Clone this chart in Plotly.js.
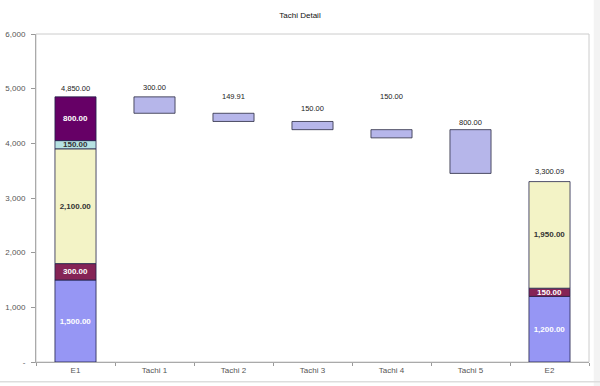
<!DOCTYPE html>
<html>
<head>
<meta charset="utf-8">
<script src="https://cdn.plot.ly/plotly-3.0.1.min.js"></script>
<style>html,body{margin:0;padding:0;background:#fff;}#chart{width:600px;height:386px;}</style>
</head>
<body>
<div id="chart"></div>
<script>
var categories = ['E1', 'Tachi 1', 'Tachi 2', 'Tachi 3', 'Tachi 4', 'Tachi 5', 'E2'];

// stacked segments of the total bars (E1, E2)
var blueVals   = [1500, null, null, null, null, null, 1200];
var maroonVals = [300,  null, null, null, null, null, 150];
var yellowVals = [2100, null, null, null, null, null, 1950];
var cyanVals   = [150,  null, null, null, null, null, null];
var purpleVals = [800,  null, null, null, null, null, null];

// floating steps
var stepCats    = ['Tachi 1', 'Tachi 2', 'Tachi 3', 'Tachi 4', 'Tachi 5'];
var stepTops    = [4850, 4550, 4400, 4250, 4250];
var stepHeights = [300, 149.91, 150, 150, 800];

// top labels and their heights
var topLabels = ['4,850.00', '300.00', '149.91', '150.00', '150.00', '800.00', '3,300.09'];
var topLabelY = [5010, 5030, 4850, 4630, 4850, 4390, 3490];

var yTickVals = [0, 1000, 2000, 3000, 4000, 5000, 6000];
var yTickText = ['-', '1,000', '2,000', '3,000', '4,000', '5,000', '6,000'];

function fmt(v) {
  return v == null ? '' : v.toLocaleString('en-US', {minimumFractionDigits: 2, maximumFractionDigits: 2});
}

var segments = [
  {vals: blueVals,   color: '#9696F4', text: '#ffffff'},
  {vals: maroonVals, color: '#852456', text: '#ffffff'},
  {vals: yellowVals, color: '#F3F3C6', text: '#333333'},
  {vals: cyanVals,   color: '#B6E2E2', text: '#333333'},
  {vals: purpleVals, color: '#660066', text: '#ffffff'}
];

var barW = 0.52;
var traces = [];
var cum = categories.map(function () { return 0; });
segments.forEach(function (s) {
  var bases = cum.slice();
  traces.push({
    type: 'bar', x: categories, y: s.vals, base: bases, width: barW,
    marker: {color: s.color, line: {color: '#22224a', width: 0.8}},
    text: s.vals.map(fmt), textposition: 'inside', insidetextanchor: 'middle',
    constraintext: 'none', textangle: 0,
    textfont: {family: 'Liberation Sans, Arial, sans-serif', size: 8, color: s.text, weight: 'bold'},
    hoverinfo: 'none', showlegend: false
  });
  cum = cum.map(function (c, i) { return c + (s.vals[i] || 0); });
});

traces.push({
  type: 'bar', x: stepCats,
  y: stepHeights,
  base: stepTops.map(function (t, i) { return t - stepHeights[i]; }),
  width: barW,
  marker: {color: '#B6B6EA', line: {color: '#2a2a40', width: 0.8}},
  hoverinfo: 'none', showlegend: false
});

var annotations = categories.map(function (c, i) {
  return {
    x: c, y: topLabelY[i], xref: 'x', yref: 'y', text: topLabels[i], showarrow: false,
    font: {family: 'Liberation Sans, Arial, sans-serif', size: 7.5, color: '#222'},
    yanchor: 'middle'
  };
});

var layout = {
  width: 600, height: 386,
  margin: {l: 36, r: 11, t: 34, b: 24},
  paper_bgcolor: '#ffffff', plot_bgcolor: '#ffffff',
  barmode: 'overlay',
  font: {family: 'Liberation Sans, Arial, sans-serif', size: 8, color: '#555'},
  title: {text: 'Tachi Detail', x: 0.5, xanchor: 'center', y: 0.961, yref: 'container', yanchor: 'middle',
          font: {family: 'Liberation Sans, Arial, sans-serif', size: 8, color: '#111'}},
  xaxis: {type: 'category', categoryarray: categories, tickson: 'boundaries',
          ticks: 'outside', ticklen: 3, tickcolor: '#999', showline: true, linecolor: '#aaa',
          showgrid: false, tickfont: {size: 8, color: '#555'}, fixedrange: true},
  yaxis: {range: [0, 6000], tickvals: yTickVals, ticktext: yTickText,
          ticks: 'outside', ticklen: 4, tickcolor: '#999', showline: true, linecolor: '#aaa',
          showgrid: false, zeroline: false, tickfont: {size: 8, color: '#555'}, ticklabelstandoff: 4, fixedrange: true},
  annotations: annotations,
  shapes: [
    {type: 'rect', xref: 'paper', yref: 'paper', x0: 0, x1: 1, y0: 0, y1: 1,
     line: {color: '#cccccc', width: 1}, layer: 'below'},
    {type: 'rect', xref: 'paper', yref: 'paper', x0: 1.0085, x1: 1.03, y0: -0.2, y1: 1.2,
     line: {width: 0}, fillcolor: '#f3f3f3', layer: 'below'},
    {type: 'line', xref: 'paper', yref: 'paper', x0: -0.1, x1: 1.03, y0: -0.06, y1: -0.06,
     line: {color: '#dddddd', width: 1.5}}
  ]
};

Plotly.newPlot('chart', traces, layout, {displayModeBar: false, staticPlot: true});
</script>
</body>
</html>
